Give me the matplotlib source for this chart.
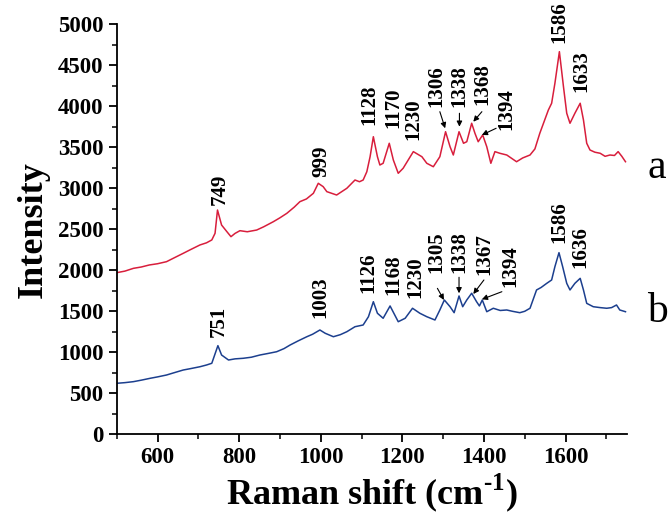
import matplotlib
matplotlib.use('Agg')
import matplotlib.pyplot as plt
from matplotlib.ticker import MultipleLocator

# spectrum a (red)
shift_a = [500, 520, 541, 560, 580, 600, 622, 640, 663, 680, 704, 720, 733, 741, 747, 757,
           770, 780, 790, 802, 820, 843, 860, 884, 900, 917, 935, 949,
           965, 982, 994, 1006, 1015, 1039, 1064, 1084, 1095, 1104, 1113, 1121, 1129, 1139,
           1145, 1153, 1168, 1178, 1190, 1202, 1227, 1248, 1260, 1276, 1292, 1306, 1317,
           1325, 1339, 1350, 1358, 1370, 1378, 1386, 1397, 1407, 1417, 1427, 1439, 1456,
           1480, 1495, 1513, 1525, 1537, 1558, 1566, 1574, 1585, 1595, 1603, 1611, 1623,
           1636, 1644, 1652, 1660, 1672, 1685, 1697, 1709, 1720, 1729, 1738, 1747]
int_a = [1971, 1990, 2024, 2040, 2065, 2080, 2105, 2150, 2207, 2250, 2309, 2335, 2370, 2451,
         2735, 2552, 2471, 2410, 2450, 2483, 2470, 2491, 2530, 2593, 2640, 2695, 2770, 2837,
         2870, 2939, 3061, 3020, 2959, 2918, 3000, 3101, 3080, 3101, 3202, 3385, 3629, 3385,
         3284, 3305, 3549, 3345, 3183, 3244, 3447, 3385, 3305, 3263, 3385, 3690, 3507, 3406,
         3690, 3549, 3568, 3793, 3671, 3568, 3650, 3507, 3305, 3447, 3427, 3406, 3324, 3370,
         3406, 3480, 3671, 3955, 4037, 4280, 4666, 4239, 3915, 3793, 3915, 4037, 3833, 3549,
         3467, 3440, 3427, 3390, 3406, 3400, 3447, 3390, 3324]

# spectrum b (blue)
shift_b = [500, 520, 541, 560, 582, 600, 622, 640, 663, 680, 704, 720, 733, 748, 757, 774,
           790, 810, 830, 851, 870, 892, 910, 925, 945, 966, 980, 998,
           1011, 1031, 1048, 1064, 1084, 1104, 1117, 1129, 1139, 1153, 1170, 1190, 1207,
           1225, 1243, 1260, 1280, 1292, 1303, 1317, 1327, 1339, 1348, 1358, 1370, 1382,
           1389, 1396, 1407, 1423, 1440, 1456, 1470, 1488, 1500, 1513, 1529, 1540, 1554,
           1566, 1574, 1584, 1593, 1603, 1611, 1623, 1636, 1644, 1652, 1668, 1685, 1701,
           1713, 1725, 1733, 1747]
int_b = [622, 630, 642, 660, 683, 700, 723, 750, 784, 800, 824, 845, 866, 1081, 967, 906,
         920, 927, 940, 967, 985, 1007, 1045, 1089, 1140, 1190, 1220, 1272,
         1232, 1190, 1215, 1251, 1312, 1333, 1434, 1617, 1476, 1415, 1565, 1373, 1415,
         1537, 1476, 1434, 1394, 1516, 1638, 1556, 1483, 1687, 1556, 1638, 1720, 1617,
         1565, 1638, 1495, 1537, 1510, 1516, 1500, 1483, 1500, 1537, 1760, 1790, 1841,
         1882, 2044, 2215, 2044, 1841, 1760, 1841, 1902, 1760, 1597, 1556, 1545, 1537,
         1545, 1577, 1516, 1495]

# peak labels: text, x, y (bottom of rotated text)
labels_a = ['749', '999', '1128', '1170', '1230', '1586', '1633']
lab_a_x = [753, 1002, 1119, 1178, 1227, 1585, 1640]
lab_a_y = [2796, 3141, 3772, 3732, 3589, 4768, 4178]
# labels with arrows: text, text x, text y, arrow tail, arrow head
arr_a = ['1306', '1338', '1368', '1394']
arr_a_tx = [1284, 1340, 1397, 1454]
arr_a_ty = [3995, 3995, 4016, 3711]
arr_a_from = [(1292, 3934), (1340, 3915), (1395, 3934), (1430, 3732)]
arr_a_to = [(1305, 3732), (1340, 3751), (1374, 3812), (1395, 3650)]

labels_b = ['751', '1003', '1126', '1168', '1230', '1586', '1636']
lab_b_x = [749, 1000, 1117, 1178, 1231, 1585, 1636]
lab_b_y = [1190, 1415, 1720, 1699, 1658, 2329, 2024]
arr_b = ['1305', '1338', '1367', '1394']
arr_b_tx = [1284, 1341, 1400, 1464]
arr_b_ty = [1963, 1963, 1943, 1800]
arr_b_from = [(1286, 1780), (1339, 1915), (1400, 1882), (1444, 1739)]
arr_b_to = [(1302, 1638), (1339, 1720), (1374, 1711), (1395, 1646)]

plt.rcParams['font.family'] = ['Liberation Serif', 'DejaVu Serif']
plt.rcParams['mathtext.fontset'] = 'custom'
plt.rcParams['mathtext.rm'] = 'Liberation Serif:bold'
plt.rcParams['mathtext.bf'] = 'Liberation Serif:bold'

fig = plt.figure(figsize=(6.72, 5.2), dpi=100)
ax = fig.add_axes([0.1737, 0.1648, 0.9326 - 0.1737, 0.9533 - 0.1648])

ax.plot(shift_a, int_a, color='#d81e3c', lw=1.1)
ax.plot(shift_b, int_b, color='#1c3f8e', lw=1.1)

ax.set_xlim(500, 1750)
ax.set_ylim(0, 5000)
ax.xaxis.set_major_locator(MultipleLocator(200))
ax.xaxis.set_minor_locator(MultipleLocator(100))
ax.yaxis.set_major_locator(MultipleLocator(500))
ax.yaxis.set_minor_locator(MultipleLocator(250))
ax.set_xticks([600, 800, 1000, 1200, 1400, 1600])

for s in ['top', 'right']:
    ax.spines[s].set_visible(False)
for s in ['left', 'bottom']:
    ax.spines[s].set_linewidth(1.3)
ax.tick_params(which='major', direction='out', length=6, width=1.3, labelsize=16.5)
ax.tick_params(which='minor', direction='out', length=3.5, width=1.1)
for lb in ax.get_xticklabels() + ax.get_yticklabels():
    lb.set_fontweight('bold')

ax.set_xlabel(r'Raman shift (cm$^{\text{-1}}$)', fontsize=26, fontweight='bold', labelpad=2)
ax.set_ylabel('Intensity', fontsize=26, fontweight='bold', labelpad=6)

for t, x, y in zip(labels_a + labels_b, lab_a_x + lab_b_x, lab_a_y + lab_b_y):
    ax.text(x, y, t, rotation=90, ha='center', va='bottom', fontsize=15, fontweight='bold')

for t, x, y, p0, p1 in zip(arr_a + arr_b, arr_a_tx + arr_b_tx, arr_a_ty + arr_b_ty,
                           arr_a_from + arr_b_from, arr_a_to + arr_b_to):
    ax.text(x, y, t, rotation=90, ha='center', va='bottom', fontsize=15, fontweight='bold')
    ax.annotate('', xy=p1, xytext=p0,
                arrowprops=dict(arrowstyle='-|>', color='black', lw=0.8, mutation_scale=8,
                                shrinkA=0, shrinkB=0))

ax.text(1.04, 0.65, 'a', transform=ax.transAxes, fontsize=30, ha='left', va='center')
ax.text(1.04, 0.30, 'b', transform=ax.transAxes, fontsize=30, ha='left', va='center')

fig.savefig('out.png', dpi=100)
